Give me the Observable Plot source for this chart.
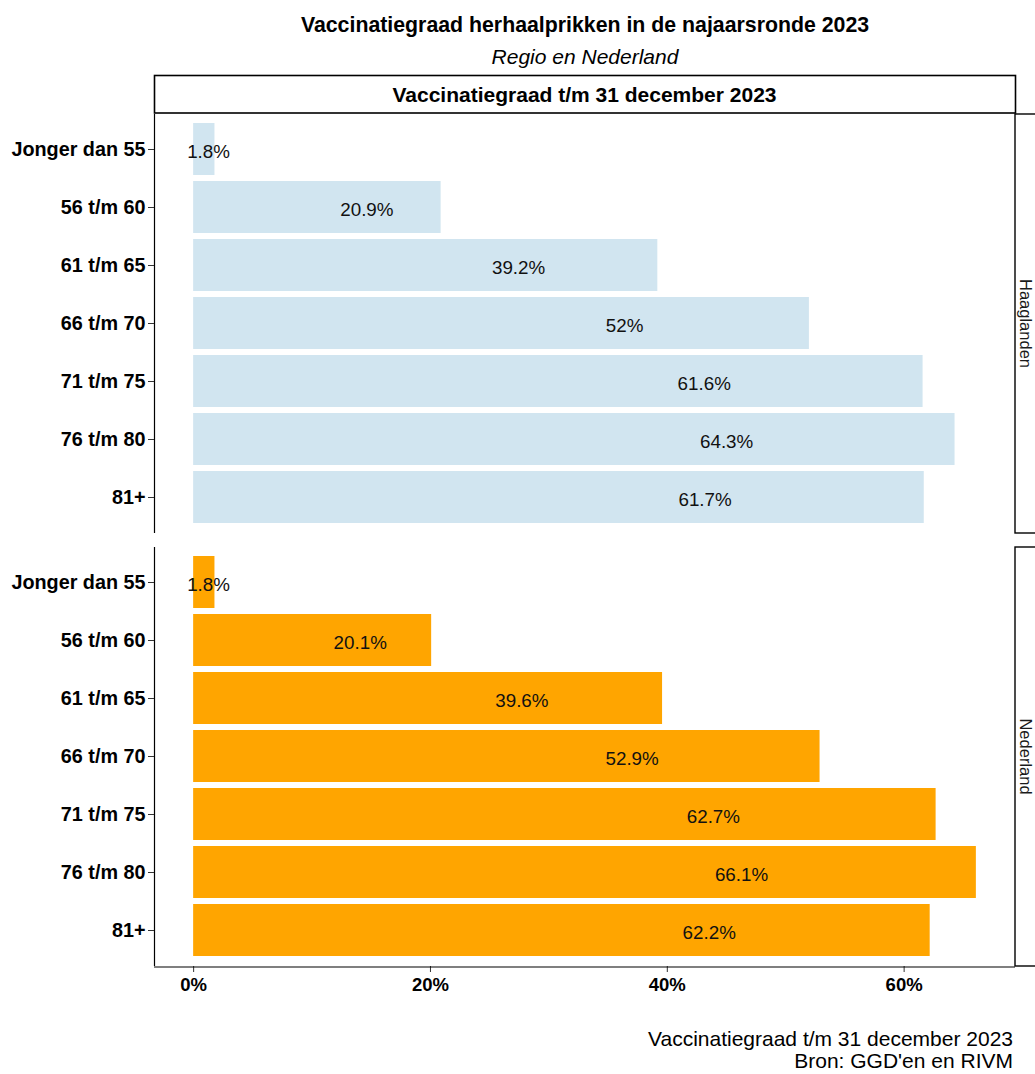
<!DOCTYPE html>
<html><head><meta charset="utf-8">
<script src="https://cdn.jsdelivr.net/npm/d3@7"></script>
<script src="https://cdn.jsdelivr.net/npm/@observablehq/plot@0.6"></script>
<style>
body{margin:0;background:#fff;font-family:"Liberation Sans",Arial,sans-serif;color:#000;}
#wrap{position:relative;width:1035px;height:1074px;overflow:hidden;}
#title{position:absolute;left:155px;width:860px;top:13px;text-align:center;font-weight:bold;font-size:21.3px;line-height:24px;}
#subtitle{position:absolute;left:155px;width:860px;top:45px;text-align:center;font-style:italic;font-size:21px;line-height:24px;}
#chart{position:absolute;left:0;top:75px;}
#caption{position:absolute;right:22px;top:1028px;text-align:right;font-size:21px;line-height:22px;}
</style></head><body>
<div id="wrap">
  <div id="title">Vaccinatiegraad herhaalprikken in de najaarsronde 2023</div>
  <div id="subtitle">Regio en Nederland</div>
  <div id="chart"></div>
  <div id="caption">Vaccinatiegraad t/m 31 december 2023<br>Bron: GGD'en en RIVM</div>
</div>
<script>
const ages = ["Jonger dan 55", "56 t/m 60", "61 t/m 65", "66 t/m 70", "71 t/m 75", "76 t/m 80", "81+"];
const regions = ["Haaglanden", "Nederland"];
const haaglanden = [1.8, 20.9, 39.2, 52, 61.6, 64.3, 61.7];
const nederland = [1.8, 20.1, 39.6, 52.9, 62.7, 66.1, 62.2];
const xTicks = [0, 20, 40, 60];
const stripTitle = "Vaccinatiegraad t/m 31 december 2023";
const colors = ["#d1e5f0", "#ffa500"];

const data = [];
ages.forEach((a, i) => data.push({region: "Haaglanden", age: a, value: haaglanden[i]}));
ages.forEach((a, i) => data.push({region: "Nederland", age: a, value: nederland[i]}));

const maxV = d3.max(data, d => d.value);
const xDomain = [0 - maxV * 0.05, maxV * 1.05];

const W = 1035, H = 932, mT = 38, mL = 154, mR = 20, mB = 40;

const chart = Plot.plot({
  width: W, height: H,
  marginTop: mT, marginLeft: mL, marginRight: mR, marginBottom: mB,
  style: {fontFamily: '"Liberation Sans", Arial, sans-serif', background: "#fff", overflow: "visible"},
  x: {domain: xDomain, label: null},
  y: {domain: ages, paddingInner: 0.1, paddingOuter: 0.15, label: null},
  fy: {domain: regions, paddingInner: 0.032, paddingOuter: 0, label: null, axis: null},
  color: {domain: regions, range: colors},
  marks: [
    Plot.barX(data, {fy: "region", y: "age", x1: 0, x2: "value", fill: "region"}),
    Plot.text(data, {fy: "region", y: "age", x: d => d.value * 0.7, text: d => d.value + "%", fontSize: 18.8, dy: 2, fill: "#111"}),
    Plot.ruleX([xDomain[0]], {stroke: "#000", strokeWidth: 1.2}),
    Plot.axisY({anchor: "left", tickSize: 6, tickPadding: 3, fontSize: 19.8, fontWeight: "bold", stroke: "#333", fill: "#000", label: null}),
    Plot.axisX({anchor: "bottom", ticks: xTicks, tickFormat: d => d + "%", tickSize: 6, tickPadding: 5, fontSize: 18.5, fontWeight: "bold", stroke: "#333", fill: "#000", label: null})
  ]
});

document.getElementById("chart").appendChild(chart);

// facet strips and bottom axis line, positioned from the scales
const svg = d3.select(chart);
const fy = chart.scale("fy");
const bw = fy.bandwidth;
const x0 = mL, x1 = W - mR;
const g = svg.append("g");

// bottom axis line
g.append("line").attr("x1", x0).attr("x2", x1).attr("y1", H - mB).attr("y2", H - mB)
  .attr("stroke", "#000").attr("stroke-width", 1.2);

// top strip
g.append("rect").attr("x", x0 + 0.5).attr("y", 0.5).attr("width", x1 - x0).attr("height", mT - 0.5)
  .attr("fill", "#fff").attr("stroke", "#000").attr("stroke-width", 1.6);
g.append("text").attr("x", (x0 + x1) / 2).attr("y", mT / 2).attr("dy", "0.38em")
  .attr("text-anchor", "middle").attr("font-weight", "bold").attr("font-size", 21)
  .text(stripTitle);

// right strips
regions.forEach(r => {
  const top = fy.apply(r);
  g.append("rect").attr("x", x1).attr("y", top).attr("width", 60).attr("height", bw)
    .attr("fill", "#fff").attr("stroke", "#000").attr("stroke-width", 1.4);
  g.append("text").attr("transform", `translate(${x1 + 11},${top + bw / 2}) rotate(90)`)
    .attr("text-anchor", "middle").attr("dy", "0.36em").attr("font-size", 16.5).attr("fill", "#1a1a1a")
    .text(r);
});
</script>
</body></html>
